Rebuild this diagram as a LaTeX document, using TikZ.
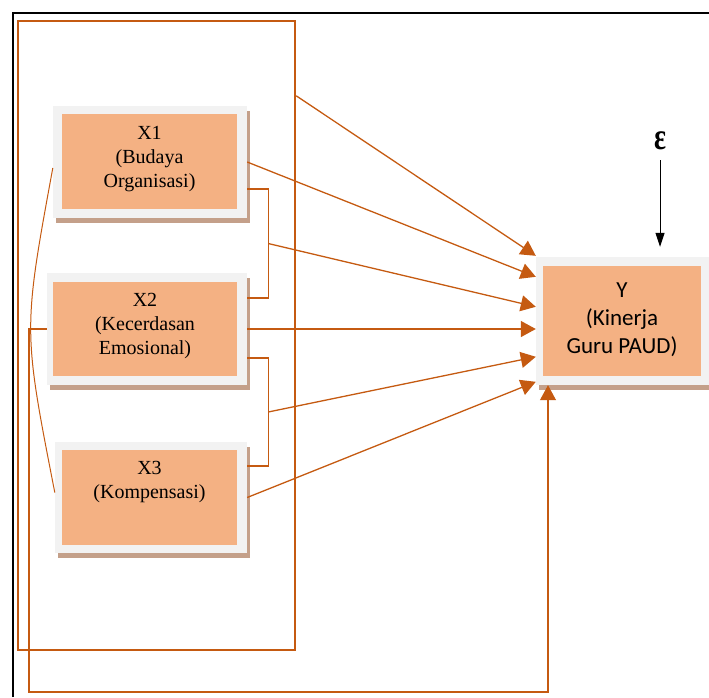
\documentclass[tikz,border=0pt]{standalone}
\usepackage{fontspec}
\setmainfont{Liberation Serif}
\newfontfamily\ysans{Carlito}
\usetikzlibrary{arrows.meta,calc,shadows}
\definecolor{lineor}{RGB}{197,90,17}
\definecolor{fillor}{RGB}{244,177,131}
\definecolor{grayb}{RGB}{242,242,242}
\definecolor{shadowc}{RGB}{196,160,138}
\tikzset{
  outerbox/.style={fill=grayb, inner sep=0pt, draw=none,
    general shadow={fill=shadowc, shadow xshift=3pt, shadow yshift=-5pt}},
  innerbox/.style={fill=fillor, inner sep=0pt, draw=none},
  xtext/.style={align=center, inner sep=0pt, font=\fontsize{20pt}{24pt}\selectfont},
  ytext/.style={align=center, inner sep=0pt, font=\ysans\fontsize{23pt}{28pt}\selectfont},
  conn/.style={draw=lineor, line width=1.3pt},
  arr/.style={conn, -{Triangle[length=15pt,width=16pt]}},
  frm/.style={draw=lineor, line width=2.4pt, inner sep=0pt}
}
\begin{document}
\begin{tikzpicture}[x=1pt,y=-1pt]
\useasboundingbox (0,0) rectangle (709,697);
% black partial frame
\draw[line width=1.8pt] (13,697) -- (13,13) -- (709,13);
% orange frame
\node[frm, minimum width=277pt, minimum height=629pt] (frame) at (156.5,335.5) {};
% boxes
\node[outerbox, minimum width=194pt, minimum height=112pt] (x1) at (150,162) {};
\node[innerbox, minimum width=175pt, minimum height=95pt] (x1in) at (149.5,161.5) {};
\node[xtext] (x1t) at (149.5,159) {X1\\(Budaya\\Organisasi)};

\node[outerbox, minimum width=200pt, minimum height=112pt] (x2) at (147,329) {};
\node[innerbox, minimum width=184pt, minimum height=94pt] (x2in) at (145,329) {};
\node[xtext] (x2t) at (145,326) {X2\\(Kecerdasan\\Emosional)};

\node[outerbox, minimum width=192pt, minimum height=111pt] (x3) at (151,497.5) {};
\node[innerbox, minimum width=175pt, minimum height=95pt] (x3in) at (149.5,497.5) {};
\node[xtext] (x3t) at (149.5,482) {X3\\(Kompensasi)};

\node[outerbox, minimum width=173pt, minimum height=128pt] (y) at (622.5,321) {};
\node[innerbox, minimum width=158pt, minimum height=110pt] (yin) at (622,321) {};
\node[ytext] (yt) at (622,320) {Y\\(Kinerja\\Guru PAUD)};

% epsilon
\node[inner sep=0pt, font=\fontsize{28pt}{30pt}\selectfont\bfseries] (eps) at (660,141) {\scalebox{1}[1.35]{ε}};
\draw[line width=1pt, -{Triangle[length=14pt,width=9pt]}, shorten <=10pt, shorten >=10pt] (eps.south) -- (eps.south |- y.north);

% brackets
\coordinate (b1t) at ($(x1.east)+(21,27)$);
\coordinate (b1b) at ($(x2.east)+(21,-31)$);
\coordinate (b1m) at ($(b1t)!0.5!(b1b)$);
\draw[conn] ($(x1.east)+(0,27)$) -- (b1t) -- (b1b) -- ($(x2.east)+(0,-31)$);
\coordinate (b2t) at ($(x2.east)+(21,29)$);
\coordinate (b2b) at ($(x3.east)+(21,-31.5)$);
\coordinate (b2m) at ($(b2t)!0.5!(b2b)$);
\draw[conn] ($(x2.east)+(0,29)$) -- (b2t) -- (b2b) -- ($(x3.east)+(0,-31.5)$);

% arrows into Y
\draw[arr] ($(frame.north east)+(0,76)$) -- ($(y.north west)+(0,-1)$);
\draw[arr] (x1.east) -- ($(y.north west)+(0,20)$);
\draw[arr] (b1m) -- ($(y.north west)+(0,50)$);
\draw[arr] (x2.east) -- (x2.east -| y.west);
\draw[arr] (b2m) -- ($(y.north west)+(0,100)$);
\draw[arr] (x3.east) -- ($(y.north west)+(0,125)$);

% correlation arc
\draw[conn, line width=1pt] ($(x1.west)+(0,6)$) .. controls (23,330) .. ($(x3.west)+(0,-5)$);

% feedback path
\coordinate (fb1) at (29,692);
\coordinate (fb2) at (548,692);
\draw[arr, line width=1.1pt] (x2.west) -| (fb1) -- (fb2) -- (fb2 |- y.south);
\end{tikzpicture}
\end{document}
